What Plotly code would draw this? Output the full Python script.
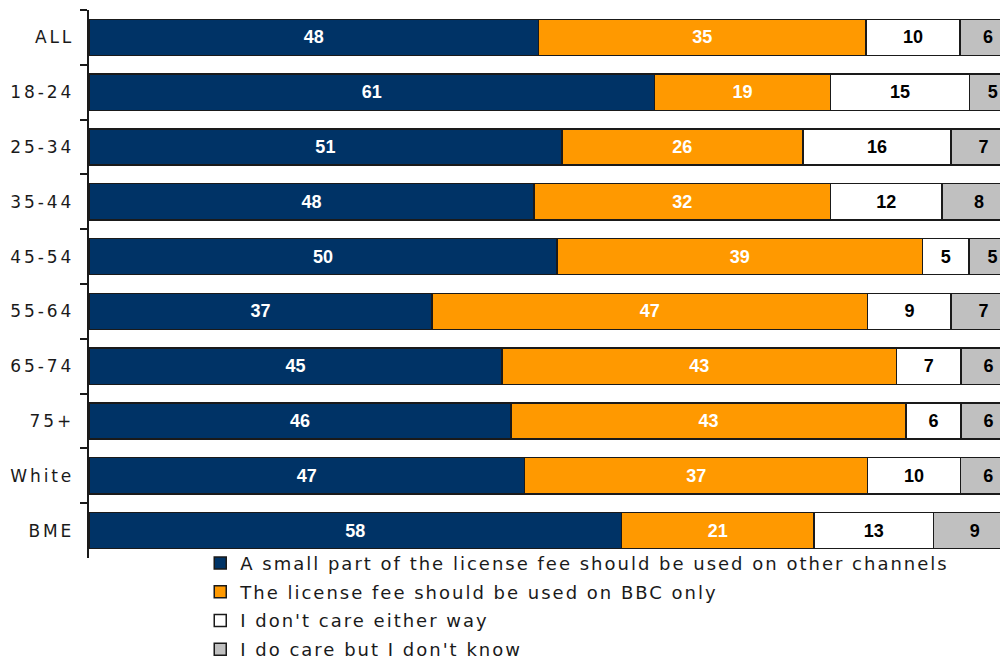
import plotly.graph_objects as go

categories = ["ALL", "18-24", "25-34", "35-44", "45-54", "55-64", "65-74", "75+", "White", "BME"]
other_channels = [48, 61, 51, 48, 50, 37, 45, 46, 47, 58]
bbc_only = [35, 19, 26, 32, 39, 47, 43, 43, 37, 21]
dont_care = [10, 15, 16, 12, 5, 9, 7, 6, 10, 13]
dont_know = [6, 5, 7, 8, 5, 7, 6, 6, 6, 9]
series_names = [
    "A small part of the license fee should be used on other channels",
    "The license fee should be used on BBC only",
    "I don't care either way",
    "I do care but I don't know",
]
colors = ["#003366", "#FF9900", "#FFFFFF", "#C0C0C0"]
text_colors = ["white", "white", "black", "black"]


def spaced(s, px):
    return f'<span style="letter-spacing:{px}px">{s}</span>'


cat_labels = [spaced(c, 2.9) for c in categories]

fig = go.Figure()
for i, (name, vals) in enumerate(zip(series_names, [other_channels, bbc_only, dont_care, dont_know])):
    fig.add_trace(go.Bar(
        y=cat_labels, x=vals, name=spaced(name, 2), orientation="h",
        marker=dict(color=colors[i], line=dict(color="#1a1a1a", width=1.5)),
        text=vals, texttemplate="%{text}", textposition="inside",
        insidetextanchor="middle",
        textfont=dict(family="Liberation Sans", size=18, color=text_colors[i], weight="bold"),
        legendgroup=str(i),
    ))

fig.update_layout(
    barmode="stack", barnorm="percent", bargap=0.34,
    width=1008, height=660,
    margin=dict(l=81, r=0, t=2, b=110, autoexpand=False),
    plot_bgcolor="white", paper_bgcolor="white",
    font=dict(family="DejaVu Sans", size=17, color="#1a1a1a"),
    showlegend=True,
    legend=dict(orientation="v", x=0.12, xanchor="left", y=0.024, yanchor="top",
                font=dict(family="DejaVu Sans", size=18, color="#1a1a1a"),
                tracegroupgap=2.3, bgcolor="rgba(0,0,0,0)"),
)
fig.update_xaxes(range=[0, 100], showgrid=False, showticklabels=False, zeroline=False, showline=False, ticks="")
fig.update_yaxes(autorange="reversed", showgrid=False, showline=True, linecolor="#1a1a1a", linewidth=2,
                 ticks="outside", ticklen=7, tickwidth=2, tickcolor="#1a1a1a", tickson="boundaries",
                 ticksuffix=" ", ticklabelstandoff=4,
                 tickfont=dict(family="DejaVu Sans", size=17, color="#1a1a1a"))
fig.write_html("out.html")
